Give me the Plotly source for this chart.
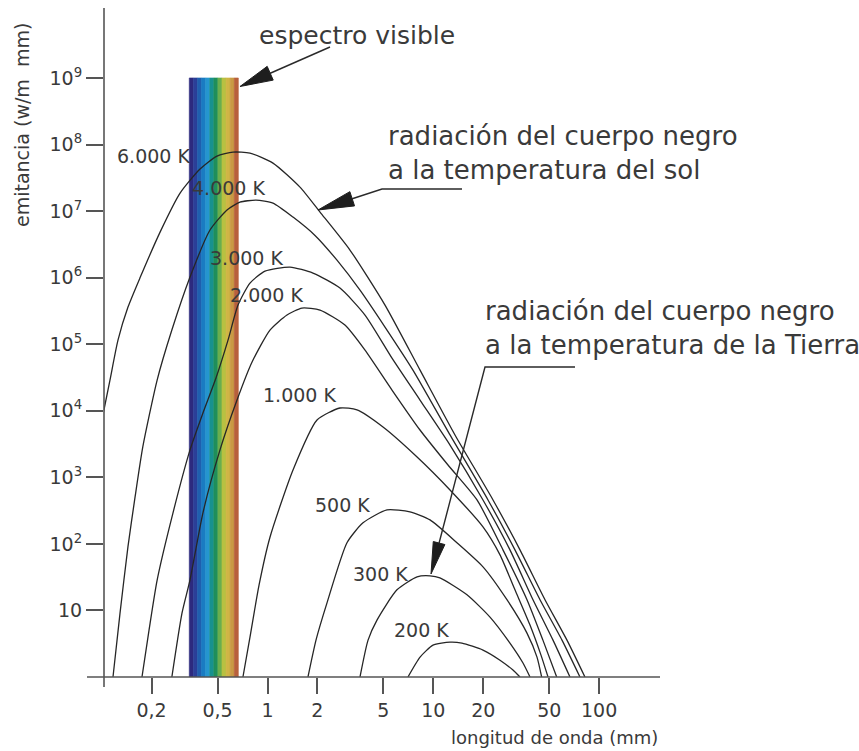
import numpy as np
import plotly.graph_objects as go

# ---------------------------------------------------------------------------
# Blackbody spectral emittance (W/m² per µm) against wavelength (µm)
# ---------------------------------------------------------------------------
wl_6000 = [0.100, 0.1122, 0.1254, 0.1441, 0.170, 0.225, 0.297, 0.392, 0.496, 0.619, 0.784, 1.079,
           1.570, 2.074, 3.142, 5.113, 8.318, 13.51, 22.91, 33.31, 47.14, 63.97, 82.1]
em_6000 = [7.0e3, 2.89e4, 1.15e5, 3.61e5, 9.84e5, 4.83e6, 1.86e7, 4.28e7, 6.70e7, 7.69e7, 7.43e7, 5.26e7,
           2.29e7, 9.66e6, 2.60e6, 3.87e5, 4.08e4, 4.33e3, 457, 81.3, 14.5, 3.58, 1]

wl_4000 = [0.117, 0.129, 0.144, 0.159, 0.177, 0.216, 0.265, 0.341, 0.450, 0.570, 0.682, 0.853,
           1.079, 1.425, 1.934, 2.625, 3.613, 5.112, 7.536, 12.61, 21.37, 31.07, 43.99, 59.70, 76.6]
em_4000 = [1, 9.12, 90.2, 507, 2.86e3, 2.89e4, 1.63e5, 1.02e6, 5.19e6, 1.04e7, 1.36e7, 1.46e7,
           1.32e7, 8.13e6, 4.31e6, 1.83e6, 6.49e5, 1.81e5, 4.08e4, 4.33e3, 457, 81.3, 14.5, 3.58, 1]

wl_3000 = [0.175, 0.193, 0.216, 0.269, 0.341, 0.408, 0.489, 0.578, 0.664, 0.784, 0.966,
           1.367, 1.880, 2.736, 3.873, 5.634, 8.31, 12.61, 19.93, 28.98, 39.91, 52.70, 66.68]
em_3000 = [1, 5.07, 28.6, 290, 2.58e3, 9.25e3, 3.10e4, 1.15e5, 3.87e5, 8.28e5, 1.25e6,
           1.44e6, 1.17e6, 6.96e5, 2.74e5, 6.18e4, 1.45e4, 3.05e3, 457, 81.3, 14.5, 3.58, 1]

wl_2000 = [0.265, 0.305, 0.341, 0.408, 0.517, 0.655, 0.807, 1.035, 1.311, 1.614, 2.074,
           2.931, 3.873, 5.634, 8.31, 12.26, 18.34, 26.3, 36.71, 45.8, 55.46]
em_2000 = [1, 9.12, 28.8, 292, 2.58e3, 1.45e4, 5.40e4, 1.63e5, 2.74e5, 3.49e5, 3.25e5,
           1.94e5, 8.15e4, 2.05e4, 5.14e3, 1.53e3, 457, 81.3, 14.5, 3.58, 1]

wl_1000 = [0.711, 0.784, 0.889, 1.035, 1.425, 1.989, 2.735, 3.465, 4.973, 7.980, 12.61,
           19.93, 25.24, 31.07, 38.28, 44.6, 49.17]
em_1000 = [1, 3.97, 24.0, 126, 1.29e3, 7.26e3, 1.10e4, 1.03e4, 5.70e3, 2.02e3, 646,
           180, 68.4, 20.4, 6.03, 2.13, 1]

wl_500 = [1.754, 1.961, 2.285, 3.015, 3.767, 5.256, 7.231, 9.549, 13.89, 19.93, 27.80, 36.71, 42.19, 45.0]
em_500 = [1, 3.58, 13.0, 104, 207, 324, 302, 229, 104, 45.2, 14.5, 4.56, 1.99, 1]

wl_300 = [3.612, 4.04, 4.573, 6.037, 7.980, 9.549, 10.96, 15.96, 21.97, 28.98, 34.74, 38.28]
em_300 = [1, 3.58, 7.16, 20.4, 32.0, 33.1, 30.9, 17.2, 7.94, 3.23, 1.62, 1]

wl_200 = [7.033, 8.318, 9.954, 12.61, 14.88, 19.93, 25.24, 30.22, 33.31]
em_200 = [1, 1.99, 3.01, 3.34, 3.23, 2.54, 1.79, 1.27, 1]

curves = [
    ("6.000 K", wl_6000, em_6000),
    ("4.000 K", wl_4000, em_4000),
    ("3.000 K", wl_3000, em_3000),
    ("2.000 K", wl_2000, em_2000),
    ("1.000 K", wl_1000, em_1000),
    ("500 K", wl_500, em_500),
    ("300 K", wl_300, em_300),
    ("200 K", wl_200, em_200),
]

# where each temperature label sits (wavelength µm, emittance)
label_wl = [0.204, 0.578, 0.752, 0.98, 1.55, 2.85, 4.77, 8.43]
label_em = [6.7e7, 2.2e7, 1.95e6, 5.4e5, 1.72e4, 382, 35.2, 5.06]

# visible band (µm) and its stripe colours, violet to red
vis_start, vis_end = 0.3375, 0.667
vis_bottom, vis_top = 1, 1e9
vis_colors = ["#2d2a7e", "#2b3f98", "#1f5fae", "#1a7cc2", "#2596cf", "#17918f",
              "#1f8f5a", "#6aae4e", "#b8c142", "#d0b545", "#c99a44", "#b8603c"]

x_tickvals = [0.2, 0.5, 1, 2, 5, 10, 20, 50, 100]
x_ticktext = ["0,2", "0,5", "1", "2", "5", "10", "20", "50", "100"]
y_tickvals = [10, 1e2, 1e3, 1e4, 1e5, 1e6, 1e7, 1e8, 1e9]
y_ticktext = ["10"] + [f"10<sup>{k}</sup>" for k in range(2, 10)]

FONT = "DejaVu Sans"
TXT = "#3a3a3a"
AXC = "#555555"

W, H = 859, 751
ML, MR, MT, MB = 104, 199, 8, 74
PW, PH = W - ML - MR, H - MT - MB


def pp(px, py):
    """figure pixel -> paper fraction"""
    return (px - ML) / PW, (H - MB - py) / PH


fig = go.Figure()

# visible spectrum bar
edges = np.geomspace(vis_start, vis_end, len(vis_colors) + 1)
for c, a, b in zip(vis_colors, edges[:-1], edges[1:]):
    fig.add_trace(go.Scatter(
        x=[a, b, b, a, a], y=[vis_bottom, vis_bottom, vis_top, vis_top, vis_bottom],
        mode="lines", fill="toself", fillcolor=c, line=dict(width=0.6, color=c),
        hoverinfo="skip", showlegend=False))

for name, wl, em in curves:
    fig.add_trace(go.Scatter(
        x=wl, y=em, mode="lines", name=name,
        line=dict(color="#262626", width=1.3, shape="spline", smoothing=0.6),
        showlegend=False))

annotations = []
for (name, _, _), lx, ly in zip(curves, label_wl, label_em):
    annotations.append(dict(
        x=np.log10(lx), y=np.log10(ly), xref="x", yref="y", text=name, showarrow=False,
        xanchor="center", yanchor="middle", font=dict(family=FONT, size=19, color=TXT)))

def note(px, py, text, size, **kw):
    x, y = pp(px, py)
    d = dict(x=x, y=y, xref="paper", yref="paper", text=text, showarrow=False,
             font=dict(family=FONT, size=size, color=TXT))
    d.update(kw)
    annotations.append(d)

note(257, 35, "espectro visible", 25, xanchor="left", yanchor="middle")
note(386, 153.5, "radiación del cuerpo negro<br>a la temperatura del sol", 26,
     xanchor="left", yanchor="middle", align="left")
note(483, 327.5, "radiación del cuerpo negro<br>a la temperatura de la Tierra", 26,
     xanchor="left", yanchor="middle", align="left")
note(22, 125, "emitancia (w/m  mm)", 19, xanchor="center", yanchor="middle", textangle=-90)
note(660, 737, "longitud de onda (mm)", 18, xanchor="right", yanchor="middle")

# axis lines (crossing slightly past each other at the origin)
shapes = []
shapes.append(dict(type="line", xref="paper", yref="paper", x0=0, x1=0,
                   y0=pp(ML, 687)[1], y1=1, line=dict(color=AXC, width=1.6), layer="above"))
shapes.append(dict(type="line", xref="paper", yref="paper", y0=0, y1=0,
                   x0=pp(87, 0)[0], x1=1, line=dict(color=AXC, width=1.6), layer="above"))


def arrow(points, head_len, head_w):
    """polyline callout ending in a filled triangular head at the last point"""
    tip = np.array(points[-1], float)
    prev = np.array(points[-2], float)
    d = (prev - tip) / np.linalg.norm(prev - tip)
    n = np.array([-d[1], d[0]])
    base = tip + d * head_len
    b1, b2 = base + n * head_w / 2, base - n * head_w / 2
    line_pts = [pp(*p) for p in points[:-1]] + [pp(*base)]
    path = "M " + " L ".join(f"{x:.5f},{y:.5f}" for x, y in line_pts)
    shapes.append(dict(type="path", xref="paper", yref="paper", path=path,
                       line=dict(color="#2a2a2a", width=1.4), layer="above"))
    tri = [pp(*tip), pp(*b1), pp(*b2)]
    tpath = "M " + " L ".join(f"{x:.5f},{y:.5f}" for x, y in tri) + " Z"
    shapes.append(dict(type="path", xref="paper", yref="paper", path=tpath,
                       fillcolor="#1e1e1e", line=dict(color="#1e1e1e", width=1), layer="above"))


arrow([(330, 47), (240, 86.5)], 33, 15)
arrow([(462, 189), (382, 189), (318, 210)], 36, 15)
arrow([(575, 367), (485, 367), (431, 574)], 32, 12)

tick_font = dict(family=FONT, size=19, color=TXT)
fig.update_layout(
    width=W, height=H,
    margin=dict(l=ML, r=MR, t=MT, b=MB, pad=0),
    paper_bgcolor="white", plot_bgcolor="white",
    showlegend=False,
    xaxis=dict(type="log", range=[-0.986, 2.367], tickvals=x_tickvals, ticktext=x_ticktext,
               ticks="outside", ticklen=16, tickwidth=1.5, tickcolor=AXC,
               showgrid=False, zeroline=False, showline=False, tickfont=tick_font),
    yaxis=dict(type="log", range=[0, 10.051], tickvals=y_tickvals, ticktext=y_ticktext,
               ticks="outside", ticklen=17, tickwidth=1.5, tickcolor=AXC,
               showgrid=False, zeroline=False, showline=False, tickfont=tick_font),
    annotations=annotations,
    shapes=shapes,
)

fig.write_html("out.html")
